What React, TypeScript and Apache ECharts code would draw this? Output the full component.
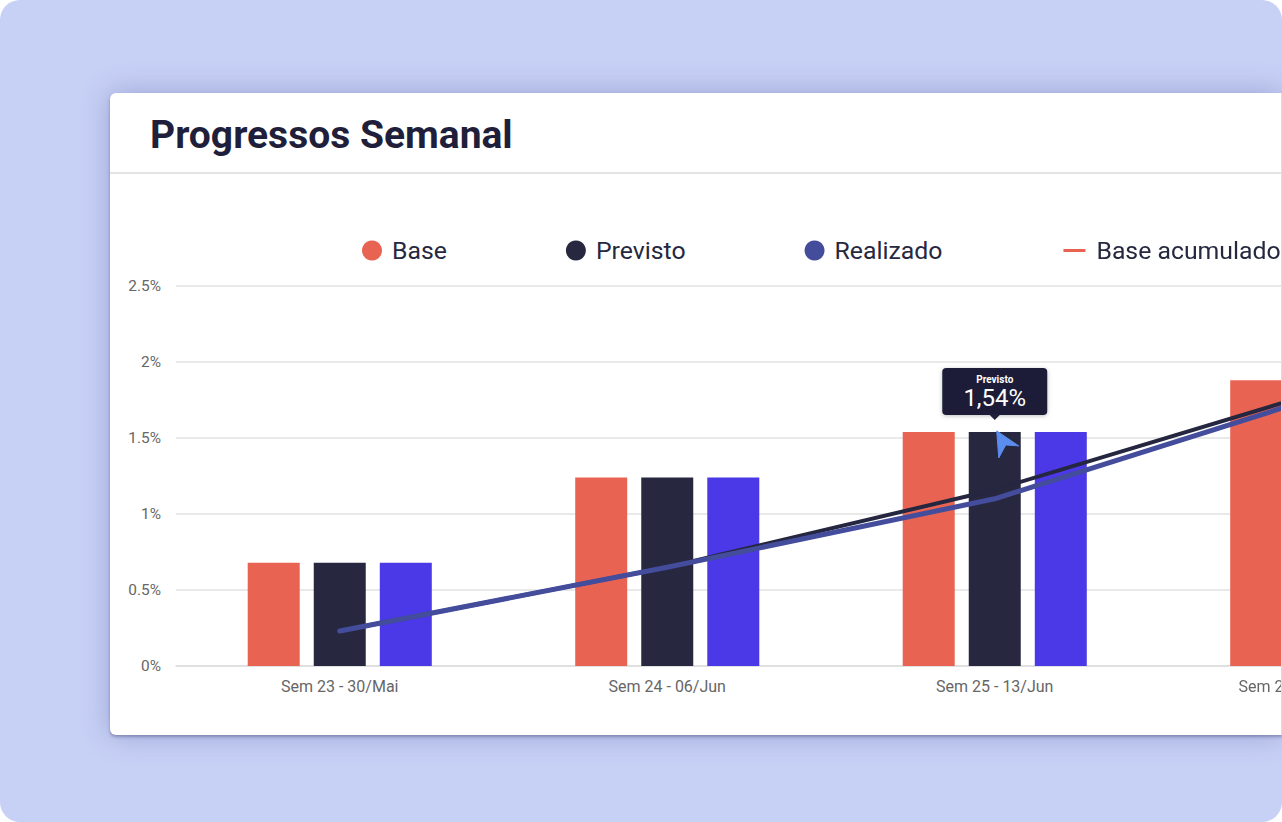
import React, { useEffect, useRef } from "react";
import * as echarts from "echarts";

// ---- data ----
const categories = ["Sem 23 - 30/Mai", "Sem 24 - 06/Jun", "Sem 25 - 13/Jun", "Sem 26 - 20/Jun"];
const baseValues = [0.68, 1.24, 1.54, 1.88];
const previstoValues = [0.68, 1.24, 1.54, 1.88];
const realizadoValues = [0.68, 1.24, 1.54, 1.88];
const baseAcumulado = [0.23, 0.65, 1.16, 1.81];
const previstoAcumulado = [0.23, 0.65, 1.16, 1.81];
const realizadoAcumulado = [0.23, 0.65, 1.1, 1.78];
const yMin = 0;
const yMax = 2.5;
const yStep = 0.5;
const tooltipIndex = 2;
const tooltipTitle = "Previsto";
const tooltipValue = "1,54%";

const C_BASE = "#E96352";
const C_PREV = "#272840";
const C_REAL = "#4B38E6";
const C_REAL_LINE = "#444C9C";
const FONT = "Roboto, 'Noto Sans', sans-serif";

export default function App() {
  const ref = useRef<HTMLDivElement>(null);

  useEffect(() => {
    if (!ref.current) return;
    const chart = echarts.init(ref.current, undefined, { renderer: "svg" });
    const lastIdx = categories.length - 1;
    chart.setOption({
      animation: false,
      textStyle: { fontFamily: FONT },
      title: {
        text: "Progressos Semanal",
        left: 35,
        top: 17,
        textStyle: { fontSize: 39, fontWeight: "bold", color: "#1F1F3B", fontFamily: FONT },
      },
      legend: {
        left: 247,
        top: 140,
        itemWidth: 30,
        itemHeight: 20,
        itemGap: 119,
        selectedMode: false,
        textStyle: { fontSize: 24.8, color: "#262840", fontFamily: FONT },
        data: [
          { name: "Base", icon: "circle", itemStyle: { color: C_BASE, borderWidth: 0 } },
          { name: "Previsto", icon: "circle", itemStyle: { color: C_PREV, borderWidth: 0 } },
          { name: "Realizado", icon: "circle", itemStyle: { color: C_REAL_LINE, borderWidth: 0 } },
          {
            name: "Base acumulado",
            icon: "path://M0,0L0,0M2,8.5H24V11.5H2ZM30,20L30,20",
            itemStyle: { color: C_BASE, borderWidth: 0 },
          },
        ],
      },
      grid: { left: 66, top: 193, width: 1310, height: 380 },
      xAxis: {
        type: "category",
        data: categories.map((c, i) =>
          i === lastIdx ? { value: c, textStyle: { padding: [0, 50, 0, 0] } } : c
        ),
        axisLine: { lineStyle: { color: "#DDDDDD", width: 1.5 } },
        axisTick: { show: false },
        axisLabel: { color: "#666666", fontSize: 16, margin: 12, fontFamily: FONT },
      },
      yAxis: {
        type: "value",
        min: yMin,
        max: yMax,
        interval: yStep,
        axisLine: { show: false },
        axisTick: { show: false },
        axisLabel: {
          color: "#666666",
          fontSize: 15.4,
          margin: 15,
          fontFamily: FONT,
          formatter: (v: number) => `${v}%`,
        },
        splitLine: { lineStyle: { color: "#E2E2E2", width: 1.5 } },
      },
      series: [
        { name: "Base", type: "bar", data: baseValues, barWidth: 52, barGap: "27%", itemStyle: { color: C_BASE } },
        { name: "Previsto", type: "bar", data: previstoValues, barWidth: 52, barGap: "27%", itemStyle: { color: C_PREV } },
        { name: "Realizado", type: "bar", data: realizadoValues, barWidth: 52, barGap: "27%", itemStyle: { color: C_REAL } },
        {
          name: "Base acumulado",
          type: "line",
          data: baseAcumulado,
          symbol: "none",
          color: C_BASE,
          lineStyle: { color: C_BASE, width: 2.5, cap: "round" },
          z: 3,
        },
        {
          name: "Previsto acumulado",
          type: "line",
          data: previstoAcumulado,
          symbol: "none",
          color: "#25263F",
          lineStyle: { color: "#25263F", width: 4, cap: "round" },
          z: 4,
        },
        {
          name: "Realizado acumulado",
          type: "line",
          data: realizadoAcumulado,
          symbol: "none",
          color: C_REAL_LINE,
          lineStyle: { color: C_REAL_LINE, width: 5, cap: "round" },
          z: 5,
        },
      ],
    });

    const p = chart.convertToPixel({ gridIndex: 0 }, [tooltipIndex, previstoValues[tooltipIndex]]) as number[];
    const cx = p[0];
    const cy = p[1];
    const bw = 105;
    const bh = 47;
    const bottom = cy - 17;
    const top = bottom - bh;
    chart.setOption({
      graphic: [
        {
          id: "divider",
          type: "line",
          shape: { x1: 0, y1: 80, x2: 1500, y2: 80 },
          style: { stroke: "#E4E4E4", lineWidth: 2 },
          silent: true,
        },
        {
          id: "tipBox",
          type: "rect",
          z: 100,
          shape: { x: cx - bw / 2, y: top, width: bw, height: bh, r: 4 },
          style: { fill: "#1E1F38", shadowBlur: 4, shadowColor: "rgba(0,0,0,0.25)", shadowOffsetY: 1 },
        },
        {
          id: "tipArrow",
          type: "polygon",
          z: 100,
          shape: { points: [[cx - 6, bottom - 1], [cx + 6, bottom - 1], [cx, bottom + 5]] },
          style: { fill: "#1E1F38" },
        },
        {
          id: "tipTitle",
          type: "text",
          z: 101,
          x: cx,
          y: top + 12,
          style: {
            text: tooltipTitle,
            fill: "#FFFFFF",
            fontSize: 10,
            fontWeight: "bold",
            fontFamily: FONT,
            align: "center",
            verticalAlign: "middle",
          },
        },
        {
          id: "tipValue",
          type: "text",
          z: 101,
          x: cx,
          y: top + 30,
          style: {
            text: tooltipValue,
            fill: "#FFFFFF",
            fontSize: 24,
            fontFamily: FONT,
            align: "center",
            verticalAlign: "middle",
          },
        },
        {
          id: "cursor",
          type: "polygon",
          z: 120,
          shape: {
            points: [
              [cx + 2, cy - 1],
              [cx + 24, cy + 14],
              [cx + 11, cy + 13],
              [cx + 4, cy + 26],
            ],
          },
          style: { fill: "#5B8DEF", stroke: "#5B8DEF", lineWidth: 1 },
        },
      ],
    });

    return () => chart.dispose();
  }, []);

  return (
    <div
      style={{
        position: "fixed",
        left: 0,
        top: 0,
        width: 1282,
        height: 822,
        background: "#C7D0F5",
        borderRadius: 20,
        overflow: "hidden",
      }}
    >
      <div
        style={{
          position: "absolute",
          left: 110,
          top: 93,
          width: 1172,
          height: 642,
          background: "#FFFFFF",
          borderRadius: "6px 0 0 6px",
          boxSizing: "border-box",
          borderRight: "1px solid #DDDDDD",
          boxShadow: "0 2px 3px rgba(40,45,90,0.35), 0 0 28px rgba(70,80,150,0.35)",
          overflow: "hidden",
        }}
      >
        <div ref={ref} style={{ position: "absolute", left: 0, top: 0, width: 1420, height: 642 }} />
      </div>
    </div>
  );
}
